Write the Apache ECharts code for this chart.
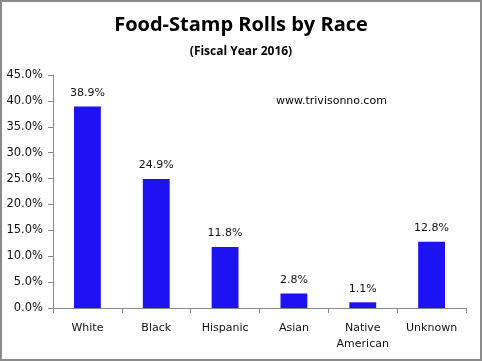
<!DOCTYPE html>
<html><head><meta charset="utf-8">
<script src="https://cdn.jsdelivr.net/npm/echarts@6/dist/echarts.min.js"></script>
<style>
html,body{margin:0;padding:0;background:#fff;}
#wrap{position:absolute;left:0;top:0;width:478px;height:357px;border:2px solid #8a8a8a;}
#c{position:absolute;left:-2px;top:-2px;width:482px;height:361px;}
</style></head><body>
<div id="wrap"><div id="c"></div></div>
<script>
const categories = ['White','Black','Hispanic','Asian','Native\nAmerican','Unknown'];
const values = [38.9, 24.9, 11.8, 2.8, 1.1, 12.8];
const chart = echarts.init(document.getElementById('c'));
chart.setOption({
  animation:false,
  title:[
    {text:'Food-Stamp Rolls by Race', left:'center', top:10, textStyle:{fontFamily:'Open Sans', fontWeight:'bold', fontSize:20, color:'#000'}},
    {text:'(Fiscal Year 2016)', left:'center', top:41, textStyle:{fontFamily:'Open Sans', fontWeight:'bold', fontSize:12, color:'#000'}}
  ],
  graphic:[{type:'text', left:276, top:96, style:{text:'www.trivisonno.com', font:'11px "DejaVu Sans"', fill:'#000'}}],
  grid:{left:53, right:16, top:75, bottom:53},
  xAxis:{type:'category', data:categories,
    axisLine:{lineStyle:{color:'#888'}},
    axisTick:{show:true, length:5, lineStyle:{color:'#888'}},
    axisLabel:{fontFamily:'DejaVu Sans', fontSize:11, color:'#111', margin:12, lineHeight:16}},
  yAxis:{type:'value', min:0, max:45, interval:5,
    axisLine:{show:true, lineStyle:{color:'#888'}},
    axisTick:{show:true, length:5, lineStyle:{color:'#888'}},
    splitLine:{show:false},
    axisLabel:{fontFamily:'DejaVu Sans', fontSize:11.5, color:'#111', margin:10, formatter:v=>v.toFixed(1)+'%'}},
  series:[{type:'bar', data:values, barWidth:'39%', itemStyle:{color:'#1c12f2'},
    label:{show:true, position:'top', distance:8, fontFamily:'DejaVu Sans', fontSize:11, color:'#111', formatter:p=>p.value.toFixed(1)+'%'}}]
});
</script></body></html>
